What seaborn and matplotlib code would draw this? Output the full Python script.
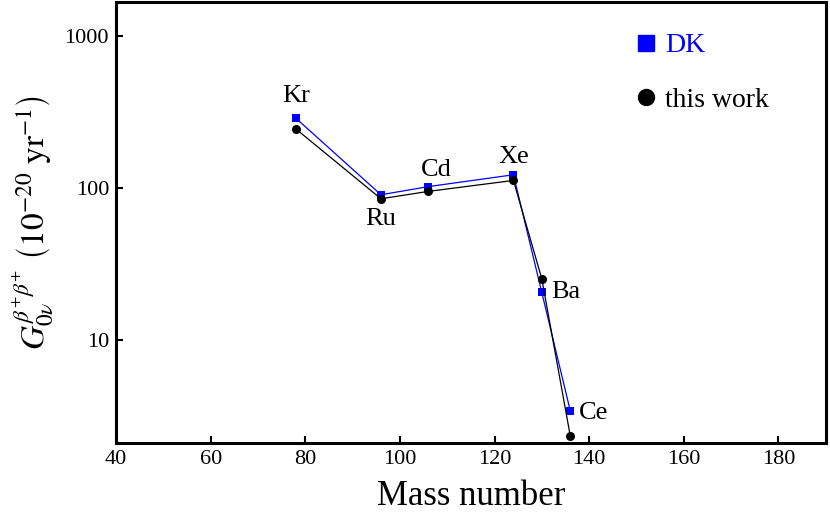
import numpy as np
import pandas as pd
import seaborn as sns
import matplotlib.pyplot as plt
from matplotlib.lines import Line2D
from matplotlib.ticker import FixedLocator, FixedFormatter, NullLocator

# valores
elementos = ['Kr', 'Ru', 'Cd', 'Xe', 'Ba', 'Ce']
massa = [78, 96, 106, 124, 130, 136]
g_dk = [287, 90.2, 102, 122, 20.6, 3.46]
g_este = [244, 84.9, 94.9, 112, 25.3, 2.37]

sns.set_style('ticks')
plt.rcParams['font.family'] = ['Liberation Serif', 'DejaVu Serif']
plt.rcParams['mathtext.fontset'] = 'stix'
plt.rcParams['text.color'] = 'black'
plt.rcParams['axes.labelcolor'] = 'black'
plt.rcParams['xtick.color'] = 'black'
plt.rcParams['ytick.color'] = 'black'

df_dk = pd.DataFrame({'massa': massa, 'G': g_dk})
df_este = pd.DataFrame({'massa': massa, 'G': g_este})

fig = plt.figure(figsize=(8.3, 5.24), dpi=100)
ax = fig.add_axes([0.1398, 0.1546, 0.855, 0.8416])

sns.lineplot(data=df_dk, x='massa', y='G', color='#0000ff', lw=0.9,
             marker='s', markersize=6, markeredgewidth=0, ax=ax)
sns.lineplot(data=df_este, x='massa', y='G', color='black', lw=0.9,
             marker='o', markersize=6.5, markeredgewidth=0, ax=ax)

ax.set_yscale('log')
ax.set_xlim(40, 190)
ax.set_ylim(2.12, 1660)
ax.yaxis.set_major_locator(FixedLocator([10, 100, 1000]))
ax.yaxis.set_major_formatter(FixedFormatter(['10', '100', '1000']))
ax.yaxis.set_minor_locator(NullLocator())
ax.set_xticks([40, 60, 80, 100, 120, 140, 160, 180])
ax.tick_params(axis='both', direction='in', length=5, width=1.5,
               labelsize=16, pad=5, top=False, right=False)
for s in ax.spines.values():
    s.set_linewidth(2.2)
    s.set_color('black')

# rotulos dos elementos (dx, dy em pontos, serie de referencia)
desloc = {'Kr': (0, 16, 'center', 'dk'), 'Ru': (0, -14.5, 'center', 'este'),
          'Cd': (5.5, 12, 'center', 'dk'), 'Xe': (0, 13, 'center', 'dk'),
          'Ba': (7, 0, 'left', 'dk'), 'Ce': (6, -2, 'left', 'dk')}
for i, el in enumerate(elementos):
    dx, dy, ha, serie = desloc[el]
    g = g_dk[i] if serie == 'dk' else g_este[i]
    ax.annotate(el, (massa[i], g), xytext=(dx, dy), textcoords='offset points',
                ha=ha, va='center', fontsize=19)

ax.set_xlabel('Mass number', fontsize=25, labelpad=8)
ax.set_ylabel(r'$G_{0\nu}^{\beta^{+}\beta^{+}}\ \left(10^{-20}\ \mathrm{yr}^{-1}\right)$',
              fontsize=24, labelpad=7)

handles = [Line2D([], [], marker='s', color='#0000ff', ls='none', markersize=11),
           Line2D([], [], marker='o', color='black', ls='none', markersize=11.5)]
ax.legend(handles, ['DK', 'this work'], loc='upper left', bbox_to_anchor=(0.727, 0.93),
          frameon=False, fontsize=20, handlelength=1, handletextpad=0.2,
          labelspacing=1.05, borderpad=0, borderaxespad=0, labelcolor=['#0000ff', 'black'])

plt.savefig('out.png', dpi=100)
